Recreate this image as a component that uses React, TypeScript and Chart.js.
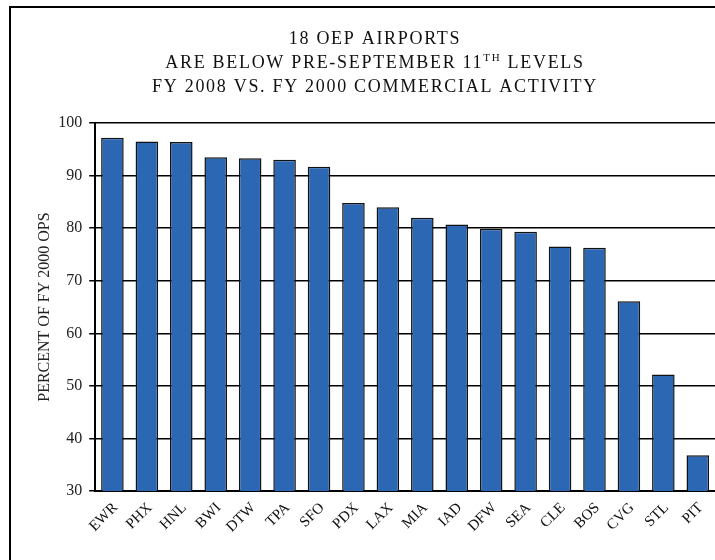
import { useEffect, useRef } from "react";
import { Chart, registerables } from "chart.js";

Chart.register(...registerables);

// Airports ordered by FY 2008 commercial operations as a percent of FY 2000
const airports = [
  "EWR", "PHX", "HNL", "BWI", "DTW", "TPA", "SFO", "PDX", "LAX",
  "MIA", "IAD", "DFW", "SEA", "CLE", "BOS", "CVG", "STL", "PIT",
];
const percentOfFy2000 = [
  97.2, 96.5, 96.4, 93.5, 93.3, 93.0, 91.7, 84.8, 84.0,
  82.0, 80.7, 79.9, 79.3, 76.5, 76.3, 66.1, 52.2, 36.8,
];
const yMin = 30;
const yMax = 100;
const yStep = 10;
const yAxisTitle = "PERCENT OF FY 2000 OPS";
const titleLine1 = "18 OEP AIRPORTS";
const titleLine2Parts = ["ARE BELOW PRE-SEPTEMBER 11", "TH", " LEVELS"];
const titleLine3 = "FY 2008 VS. FY 2000 COMMERCIAL ACTIVITY";

const SERIF = '"Liberation Serif", "Times New Roman", serif';

// Black frame around the figure (top and left edges fall inside the canvas)
const framePlugin = {
  id: "frame",
  beforeDraw(chart: Chart) {
    const ctx = chart.ctx;
    ctx.save();
    ctx.fillStyle = "#000";
    ctx.fillRect(9, 6, 2, chart.height);
    ctx.fillRect(9, 6, chart.width, 2);
    ctx.restore();
  },
};

// Three-line heading with a superscript "TH"
const headingPlugin = {
  id: "heading",
  afterDraw(chart: Chart) {
    const ctx = chart.ctx as CanvasRenderingContext2D & { letterSpacing?: string };
    const cx = 375;
    ctx.save();
    ctx.fillStyle = "#111";
    ctx.textBaseline = "alphabetic";
    ctx.letterSpacing = "1.7px";
    const big = `18px ${SERIF}`;
    const small = `11px ${SERIF}`;

    ctx.font = big;
    ctx.textAlign = "center";
    ctx.fillText(titleLine1, cx, 44);
    ctx.fillText(titleLine3, cx, 92);

    // line 2 with superscript
    ctx.textAlign = "left";
    ctx.font = big;
    const w0 = ctx.measureText(titleLine2Parts[0]).width;
    const w2 = ctx.measureText(titleLine2Parts[2]).width;
    ctx.font = small;
    const w1 = ctx.measureText(titleLine2Parts[1]).width;
    let x = cx - (w0 + w1 + w2) / 2;
    ctx.font = big;
    ctx.fillText(titleLine2Parts[0], x, 68);
    x += w0;
    ctx.font = small;
    ctx.fillText(titleLine2Parts[1], x, 61);
    x += w1;
    ctx.font = big;
    ctx.fillText(titleLine2Parts[2], x, 68);
    ctx.restore();
  },
};

export default function App() {
  const canvasRef = useRef<HTMLCanvasElement | null>(null);

  useEffect(() => {
    const canvas = canvasRef.current;
    if (!canvas) return;
    const chart = new Chart(canvas, {
      type: "bar",
      data: {
        labels: airports,
        datasets: [
          {
            data: percentOfFy2000,
            backgroundColor: "#2B67B3",
            borderColor: "#111",
            borderWidth: 1.5,
            categoryPercentage: 1,
            barPercentage: 0.655,
          },
        ],
      },
      options: {
        responsive: false,
        animation: false,
        devicePixelRatio: 1,
        layout: { padding: { top: 123, left: 28, right: -5, bottom: 24 } },
        plugins: {
          legend: { display: false },
          tooltip: { enabled: false },
          title: { display: false },
        },
        scales: {
          x: {
            grid: { display: false },
            border: { color: "#000", width: 2 },
            ticks: {
              autoSkip: false,
              minRotation: 45,
              maxRotation: 45,
              color: "#111",
              padding: 0,
              labelOffset: 3,
              font: { family: SERIF, size: 15 },
            },
          },
          y: {
            min: yMin,
            max: yMax,
            ticks: {
              stepSize: yStep,
              color: "#222",
              padding: 7,
              font: { family: SERIF, size: 16 },
            },
            grid: { color: "#000", lineWidth: 1.5, tickLength: 6 },
            border: { color: "#000", width: 2 },
            title: {
              display: true,
              text: yAxisTitle,
              color: "#222",
              padding: { top: 7, bottom: -3 },
              font: { family: SERIF, size: 16 },
            },
          },
        },
      },
      plugins: [framePlugin, headingPlugin],
    });
    return () => chart.destroy();
  }, []);

  return (
    <div
      style={{
        position: "fixed",
        left: 0,
        top: 0,
        width: 715,
        height: 560,
        overflow: "hidden",
        background: "#fff",
      }}
    >
      <canvas ref={canvasRef} width={715} height={560} style={{ display: "block" }} />
    </div>
  );
}
